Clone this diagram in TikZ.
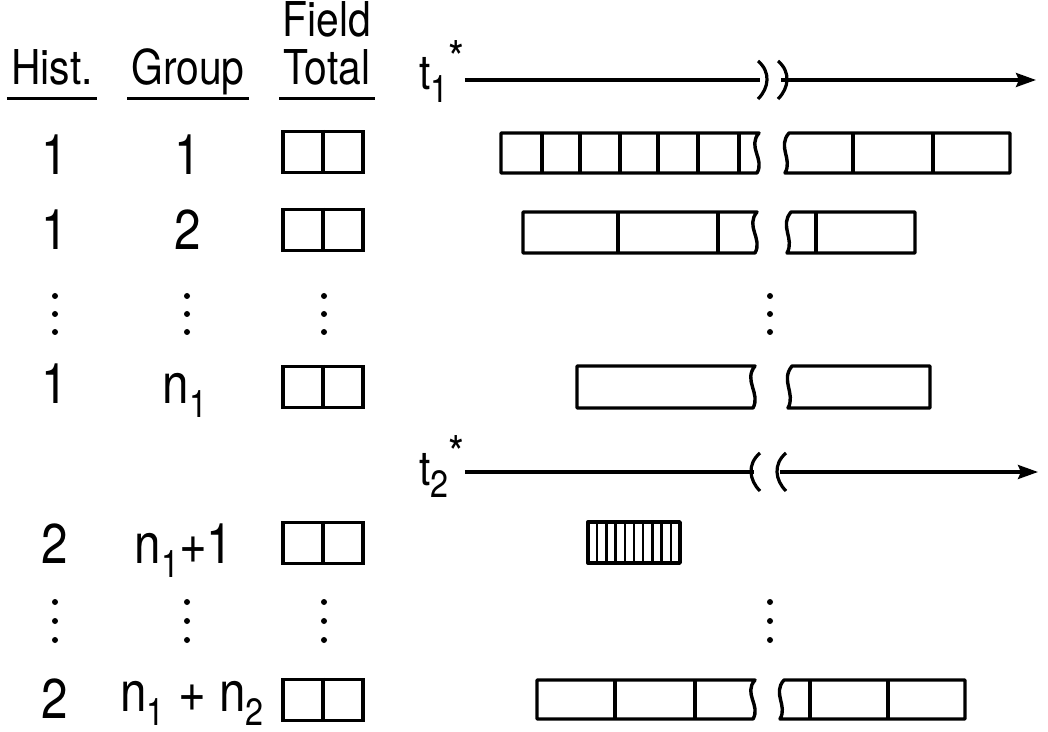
\documentclass[tikz,border=0pt]{standalone}
\usepackage{fontspec}
\setmainfont{TeX Gyre Heros}[FakeStretch=0.85]
\usetikzlibrary{arrows.meta,positioning}
\tikzset{hd/.style = {font=\fontsize{24}{26}\selectfont, inner xsep=2pt, inner ysep=0pt, text depth=0pt, anchor=base},
	lbl/.style = {font=\fontsize{28}{30}\selectfont, inner sep=0pt, anchor=base},
	bar/.style = {line width=1.7pt, line join=round},
	ftbox/.style = {draw, line width=1.7pt, minimum width=40pt, minimum height=20.5pt, inner sep=0pt},
	tline/.style = {line width=1.6pt}}
% small lowered index, as in n_1
\newcommand{\lowidx}[1]{\raisebox{-0.26em}{\fontsize{19}{19}\selectfont #1}}
% bar with a broken right end / a broken left end
\newcommand{\barL}[4]{\draw[bar] ({#2+2},#3) -- (#1,#3) -- (#1,#4) -- (#2,#4)
	.. controls ({#2+8},{#4-0.35*(#4-#3)}) and ({#2-10},{#3+0.35*(#4-#3)}) .. cycle;}
\newcommand{\barR}[4]{\draw[bar] (#1,#4) -- (#2,#4) -- (#2,#3) -- ({#1+4},#3)
	.. controls ({#1-8},{#3+0.35*(#4-#3)}) and ({#1+8},{#4-0.35*(#4-#3)}) .. cycle;}
% break marks on a time axis
\newcommand{\brkR}[2]{\draw[tline] ({#1-4},{#2-19}) .. controls ({#1+9},{#2-8}) and ({#1+7},{#2+8}) .. ({#1-4},{#2+19});}
\newcommand{\brkL}[2]{\draw[tline] ({#1+4},{#2-19}) .. controls ({#1-9},{#2-8}) and ({#1-7},{#2+8}) .. ({#1+4},{#2+19});}

\begin{document}
\begin{tikzpicture}[x=0.5pt, y=-0.5pt]
	\useasboundingbox (0,0) rectangle (1048,732);
	% headers
	\node[hd] (field) at (327,37) {Field};
	\node[hd] (hist) at (52,85) {Hist.};
	\node[hd] (group) at (188,85) {Group};
	\node[hd] (total) at (327,85) {Total};
	\foreach \h in {hist,group,total}
		\draw[line width=1.4pt] ([yshift=-6.5pt]\h.south west) -- ([yshift=-6.5pt]\h.south east);

	% rows
	\node[lbl] (h1) at (55,175) {1};
	\node[lbl] (g1) at (188,175) {1};
	\node[lbl] (h2) at (55,250) {1};
	\node[lbl] (g2) at (188,250) {2};
	\node[lbl] (h3) at (55,403) {1};
	\node[lbl] (g3) at (185,403) {n\lowidx{1}};
	\node[lbl] (h4) at (55,563) {2};
	\node[lbl] (g4) at (184,563) {n\lowidx{1}+1};
	\node[lbl] (h5) at (55,718) {2};
	\node[lbl] (g5) at (192,711) {n\lowidx{1} + n\lowidx{2}};

	% field totals
	\foreach \n/\y in {ft1/152, ft2/230, ft3/387, ft4/543, ft5/700} {
		\node[ftbox] (\n) at (323,\y) {};
		\draw[bar] (\n.north) -- (\n.south);
	}

	% ellipses
	\foreach \x in {55,187,324,770} {
		\foreach \y in {296,314,332,602,621,640}
			\fill (\x,\y) circle[radius=1.5pt];
	}

	% time axes
	\node[hd, anchor=base west, inner xsep=0pt] (t1) at (419,90) {t\lowidx{1}\raisebox{0.3em}{*}};
	\coordinate (b1) at (760,80);
	\coordinate (b2) at (781,80);
	\coordinate (e1) at (1036,80);
	\draw[tline] (t1.east |- b1) -- (b1);
	\draw[tline, -{Stealth[length=10pt, width=7pt, inset=1.5pt]}] (b2) -- (e1);
	\brkR{762}{80} \brkR{782}{80}

	\node[hd, anchor=base west, inner xsep=0pt] (t2) at (419,485) {t\lowidx{2}\raisebox{0.3em}{*}};
	\coordinate (b3) at (754,472);
	\coordinate (b4) at (780,472);
	\coordinate (e2) at (1038,472);
	\draw[tline] (t2.east |- b3) -- (b3);
	\draw[tline, -{Stealth[length=10pt, width=7pt, inset=1.5pt]}] (b4) -- (e2);
	\brkL{756}{472} \brkL{782}{472}

	% bars
	\barL{501}{757}{133}{173} \barR{785}{1010}{133}{173}
	\barL{523}{755}{212}{253} \barR{787}{915}{212}{253}
	\barL{577}{753}{366}{408} \barR{788}{930}{366}{408}
	\barL{537}{753}{680}{719} \barR{780}{965}{680}{719}
	\foreach \d/\t/\b in {542/133/173, 580/133/173, 620/133/173, 658/133/173, 698/133/173, 739/133/173,
		853/133/173, 933/133/173, 618/212/253, 718/212/253, 816/212/253,
		615/680/719, 695/680/719, 810/680/719, 888/680/719}
		\draw[bar] (\d,\t) -- (\d,\b);
	\draw[bar] (588,522) rectangle (680,563);
	\foreach \i in {1,...,9}
		\draw[line width=1.2pt] (588+\i*9.2,522) -- (588+\i*9.2,563);
\end{tikzpicture}
\end{document}
